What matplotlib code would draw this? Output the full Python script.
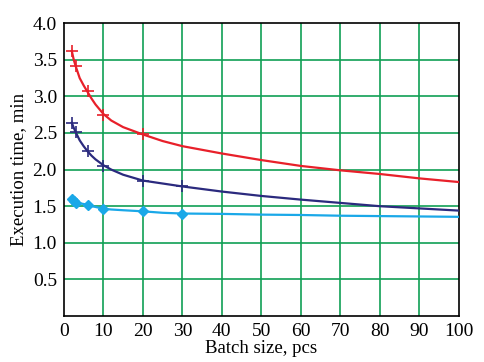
import numpy as np
import matplotlib
matplotlib.use("Agg")
import matplotlib.pyplot as plt

# curves
x_curve = [2, 2.5, 3, 4, 5, 6, 7, 8, 10, 12, 15, 20, 25, 30, 40, 50, 60, 70, 80, 90, 100]
red_curve = [3.62, 3.50, 3.41, 3.25, 3.15, 3.06, 2.97, 2.89, 2.76, 2.67, 2.58, 2.48, 2.39, 2.32,
             2.22, 2.13, 2.05, 1.99, 1.94, 1.88, 1.83]
navy_curve = [2.64, 2.57, 2.51, 2.40, 2.32, 2.25, 2.19, 2.14, 2.06, 2.00, 1.93, 1.85, 1.81, 1.77,
              1.70, 1.64, 1.59, 1.545, 1.50, 1.47, 1.44]
cyan_curve = [1.60, 1.57, 1.555, 1.54, 1.53, 1.52, 1.50, 1.49, 1.465, 1.455, 1.445, 1.43, 1.41, 1.40,
              1.395, 1.385, 1.38, 1.37, 1.365, 1.36, 1.355]

# measured points
red_x = [2, 3, 6, 10, 20]
red_y = [3.62, 3.42, 3.07, 2.74, 2.48]
navy_x = [2, 3, 6, 10, 20, 30]
navy_y = [2.64, 2.51, 2.25, 2.05, 1.85, 1.78]
cyan_x = [2, 2.5, 3, 6, 10, 20, 30]
cyan_y = [1.60, 1.57, 1.55, 1.52, 1.46, 1.43, 1.40]

x_ticks = [0, 10, 20, 30, 40, 50, 60, 70, 80, 90, 100]
y_ticks = [0.5, 1.0, 1.5, 2.0, 2.5, 3.0, 3.5, 4.0]

plt.rcParams['font.family'] = ['Liberation Serif', 'DejaVu Serif']

fig = plt.figure(figsize=(4.84, 3.62), dpi=100)
ax = fig.add_axes([0.132, 0.127, 0.816, 0.809])

green = '#10a055'
for xv in x_ticks[1:-1]:
    ax.axvline(xv, color=green, lw=1.2, zorder=1)
for yv in y_ticks[:-1]:
    ax.axhline(yv, color=green, lw=1.2, zorder=1)

ax.plot(x_curve, red_curve, color='#e8202a', lw=1.6, zorder=3)
ax.plot(red_x, red_y, ls='none', marker='+', ms=9, mew=1.2, color='#e8202a', zorder=4)
ax.plot(x_curve, navy_curve, color='#2b2a7e', lw=1.6, zorder=3)
ax.plot(navy_x, navy_y, ls='none', marker='+', ms=9, mew=1.2, color='#2b2a7e', zorder=4)
ax.plot(x_curve, cyan_curve, color='#1aa8e8', lw=1.6, zorder=3)
ax.plot(cyan_x, cyan_y, ls='none', marker='D', ms=5, color='#1aa8e8', zorder=4)

ax.set_xlim(0, 100)
ax.set_ylim(0, 4.0)
ax.set_xticks(x_ticks)
ax.set_yticks(y_ticks)
ax.set_yticklabels(['%.1f' % v for v in y_ticks])
ax.tick_params(length=0, labelsize=14, pad=5)
for s in ax.spines.values():
    s.set_color('black')
    s.set_linewidth(1.2)

ax.set_xlabel('Batch size, pcs', fontsize=13.5, labelpad=0)
ax.set_ylabel('Execution time, min', fontsize=13.5, labelpad=4)

fig.savefig('out.png', dpi=100)
